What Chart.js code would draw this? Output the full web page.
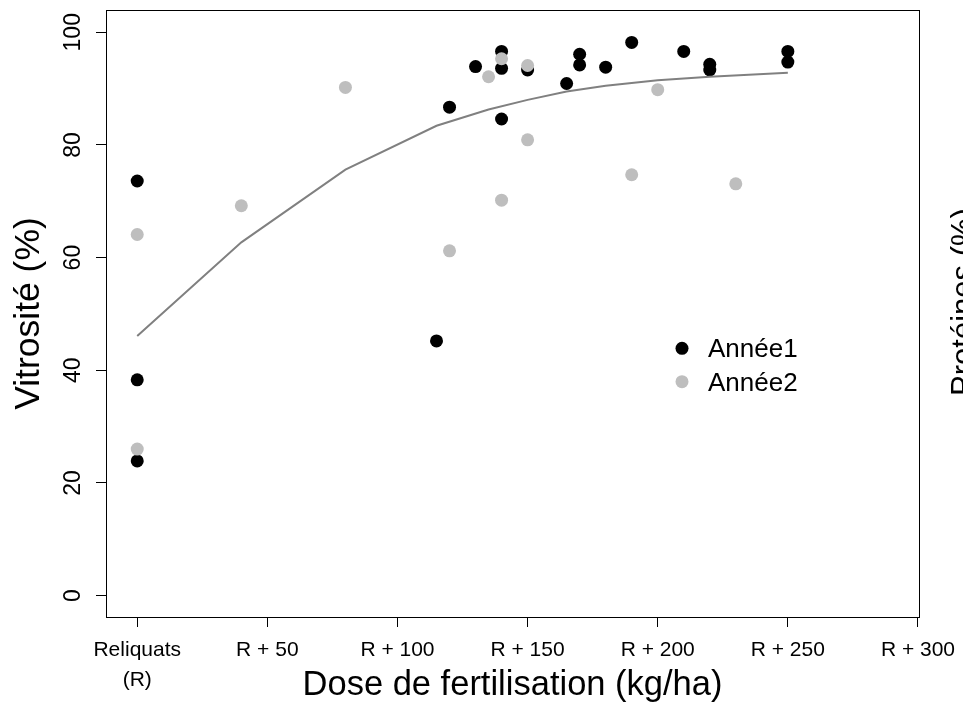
<!DOCTYPE html>
<html><head><meta charset="utf-8">
<script src="https://cdn.jsdelivr.net/npm/chart.js@4/dist/chart.umd.min.js"></script>
<style>html,body{margin:0;padding:0;background:#fff;overflow:hidden}canvas{display:block}</style>
</head><body>
<canvas id="c" width="963" height="706"></canvas>
<script>
// ---- data ----
const seriesNames = ["Année1", "Année2"];
const doses1 = [0, 0, 0, 115, 120, 130, 140, 140, 140, 150, 165, 170, 170, 180, 190, 210, 220, 220, 250, 250];
const vitro1 = [73.6, 38.3, 23.9, 45.2, 86.7, 93.9, 84.6, 96.6, 93.6, 93.3, 90.9, 96.1, 94.2, 93.8, 98.2, 96.6, 94.3, 93.3, 96.6, 94.7];
const doses2 = [0, 0, 40, 80, 120, 135, 140, 140, 150, 150, 190, 200, 230];
const vitro2 = [64.1, 26.0, 69.2, 90.2, 61.2, 92.1, 95.3, 70.2, 94.1, 80.9, 74.7, 89.8, 73.1];
const fitDoses = [0, 40, 80, 115, 135, 150, 165, 180, 200, 220, 250];
const fitVitro = [46.1, 62.7, 75.6, 83.4, 86.3, 88.0, 89.5, 90.5, 91.5, 92.1, 92.8];
const xTickValues = [0, 50, 100, 150, 200, 250, 300];
const xTickLabels = [["Reliquats", "(R)"], "R + 50", "R + 100", "R + 150", "R + 200", "R + 250", "R + 300"];
const yTickValues = [0, 20, 40, 60, 80, 100];
const xTitle = "Dose de fertilisation (kg/ha)";
const yTitle = "Vitrosité (%)";
const sideTitle = "Protéines (%)";

const FAM = "'Liberation Sans', Arial, Helvetica, sans-serif";
const COL1 = "#000000", COL2 = "#bebebe", FITCOL = "#808080";

const toPts = (xs, ys) => xs.map((x, i) => ({x: x, y: ys[i]}));

const boxPlugin = {
  id: 'box',
  afterDraw(chart) {
    const {ctx, chartArea: a} = chart;
    ctx.save();
    ctx.strokeStyle = '#000';
    ctx.lineWidth = 1;
    ctx.strokeRect(a.left + 0.5, a.top + 0.5, a.right - a.left, a.bottom - a.top);
    ctx.restore();
  }
};

const legendPlugin = {
  id: 'inlegend',
  afterDraw(chart) {
    const ctx = chart.ctx;
    const cols = [COL1, COL2];
    const dotY = [348.3, 381.7];
    const txtY = [350, 383.5];
    ctx.save();
    ctx.font = "26px " + FAM;
    ctx.textBaseline = 'middle';
    ctx.textAlign = 'left';
    for (let i = 0; i < seriesNames.length; i++) {
      ctx.fillStyle = cols[i];
      ctx.beginPath();
      ctx.arc(682, dotY[i], 6.5, 0, Math.PI * 2);
      ctx.fill();
      ctx.fillStyle = '#000';
      ctx.fillText(seriesNames[i], 708, txtY[i]);
    }
    // title of the neighbouring panel, clipped at the right edge
    ctx.translate(964, 302);
    ctx.rotate(-Math.PI / 2);
    ctx.font = "31px " + FAM;
    ctx.textAlign = 'center';
    ctx.fillText(sideTitle, 0, 0);
    ctx.restore();
  }
};

new Chart(document.getElementById('c'), {
  type: 'scatter',
  data: {
    datasets: [
      {label: 'fit', data: toPts(fitDoses, fitVitro), showLine: true, borderColor: FITCOL, borderWidth: 2,
       pointRadius: 0, pointHoverRadius: 0, fill: false, tension: 0},
      {label: seriesNames[1], data: toPts(doses2, vitro2), backgroundColor: COL2, borderWidth: 0,
       pointRadius: 6.5, pointHoverRadius: 6.5},
      {label: seriesNames[0], data: toPts(doses1, vitro1), backgroundColor: COL1, borderWidth: 0,
       pointRadius: 6.5, pointHoverRadius: 6.5}
    ]
  },
  options: {
    responsive: false, animation: false, devicePixelRatio: 1,
    layout: {padding: {left: 0, top: 10, right: 44, bottom: 0}},
    plugins: {legend: {display: false}, tooltip: {enabled: false}},
    scales: {
      x: {
        type: 'linear', position: 'bottom', min: -12, max: 300.4,
        afterBuildTicks: s => { s.ticks = xTickValues.map(v => ({value: v})); },
        afterFit: s => { s.height = 89; s.paddingLeft = 0; s.paddingRight = 0; },
        ticks: {
          callback: (v, i) => xTickLabels[i],
          font: {family: FAM, size: 21, lineHeight: 1.4}, color: '#000', padding: 9,
          minRotation: 0, maxRotation: 0, autoSkip: false
        },
        grid: {drawOnChartArea: false, drawTicks: true, tickLength: 10, tickColor: '#000', tickWidth: 1},
        border: {display: false},
        title: {display: true, text: xTitle, font: {family: FAM, size: 34.5, lineHeight: 1.2}, color: '#000', padding: 0}
      },
      y: {
        type: 'linear', position: 'left', min: -3.8, max: 103.95,
        afterBuildTicks: s => { s.ticks = yTickValues.map(v => ({value: v})); },
        afterFit: s => { s.width = 106; s.paddingTop = 0; s.paddingBottom = 0; },
        ticks: {
          callback: v => String(v),
          font: {family: FAM, size: 23}, color: '#000', padding: 3,
          minRotation: 90, maxRotation: 90, crossAlign: 'center', autoSkip: false
        },
        grid: {drawOnChartArea: false, drawTicks: true, tickLength: 10, tickColor: '#000', tickWidth: 1},
        border: {display: false},
        title: {display: true, text: yTitle, font: {family: FAM, size: 35.5, lineHeight: 1.2}, color: '#000', padding: {top: 8, bottom: 0}}
      }
    }
  },
  plugins: [boxPlugin, legendPlugin]
});
</script>
</body></html>
